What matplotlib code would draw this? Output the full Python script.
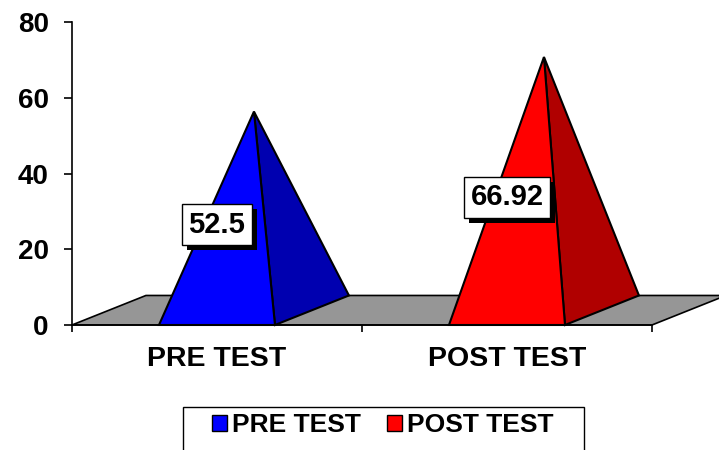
import matplotlib
matplotlib.use("Agg")
import matplotlib.pyplot as plt
import matplotlib.patheffects as pe
from matplotlib.patches import Polygon, Patch, Rectangle

plt.rcParams['font.family'] = ['Liberation Sans', 'DejaVu Sans']
plt.rcParams['font.weight'] = 'bold'

# data
categories = ["PRE TEST", "POST TEST"]
scores = [52.5, 66.92]
front_colors = ["#0000FF", "#FF0000"]
side_colors = ["#0000B0", "#B00000"]
y_ticks = [0, 20, 40, 60, 80]

# fake 3d look (depth of the floor, in data units)
half_w = 0.2
depth_x = 0.255
depth_y = 7.8

fig = plt.figure(figsize=(7.19, 4.5), dpi=100)
ax = fig.add_axes([0.1001, 0.2778, 0.8067, 0.6727])
n = len(categories)
ax.set_xlim(0, n)
ax.set_ylim(0, 80)

# floor
floor = Polygon([(0, 0), (n, 0), (n + depth_x, depth_y), (depth_x, depth_y)],
                closed=True, facecolor="#969696", edgecolor="black",
                lw=1.2, clip_on=False, zorder=1)
ax.add_patch(floor)

# pyramids
for i, (v, fc, sc) in enumerate(zip(scores, front_colors, side_colors)):
    c = i + 0.5
    fl = (c - half_w, 0)
    fr = (c + half_w, 0)
    br = (c + half_w + depth_x, depth_y)
    apex = (c + depth_x / 2, depth_y / 2 + v)
    ax.add_patch(Polygon([fr, br, apex], closed=True, facecolor=sc,
                         edgecolor="black", lw=1.5, clip_on=False, zorder=2))
    ax.add_patch(Polygon([fl, fr, apex], closed=True, facecolor=fc,
                         edgecolor="black", lw=1.5, clip_on=False, zorder=3))

    t = ax.text(c, v / 2 + 0.3, f"{v:g}", ha="center", va="center",
                fontsize=21, fontweight="bold", zorder=5,
                bbox=dict(boxstyle="square,pad=0.22", fc="white",
                          ec="black", lw=1))
    t.get_bbox_patch().set_path_effects(
        [pe.withSimplePatchShadow(offset=(3.6, -3.6), shadow_rgbFace="black", alpha=1.0)])

# axes
for s in ["top", "right"]:
    ax.spines[s].set_visible(False)
ax.spines["left"].set_linewidth(1.2)
ax.spines["bottom"].set_linewidth(1.2)
ax.spines["bottom"].set_zorder(4)

ax.set_yticks(y_ticks)
ax.tick_params(axis="y", direction="out", length=5.8, width=1.2, pad=11,
               labelsize=20)
ax.set_xticks(range(n + 1))
ax.set_xticklabels([])
ax.set_xticks([i + 0.5 for i in range(n)], minor=True)
ax.set_xticklabels(categories, minor=True, fontsize=20.5, fontweight="bold")
ax.tick_params(axis="x", which="major", direction="out", length=5, width=1.2)
ax.tick_params(axis="x", which="minor", length=0, pad=15)

# legend
handles = [Patch(facecolor=fc, edgecolor="black", label=lab)
           for fc, lab in zip(front_colors, categories)]
fig.legend(handles=handles, loc="upper left", bbox_to_anchor=(212 / 719, (450 - 413) / 450),
           ncol=2, frameon=False, borderpad=0, borderaxespad=0,
           handlelength=0.55, handleheight=0.55, handletextpad=0.2,
           columnspacing=1.0, prop={"size": 19, "weight": "bold"})
fig.add_artist(Rectangle((183 / 719, -0.05), (584 - 183) / 719, (450 - 407) / 450 + 0.05,
                         transform=fig.transFigure, fill=False, ec="black", lw=1))

fig.savefig("out.png", dpi=100)
